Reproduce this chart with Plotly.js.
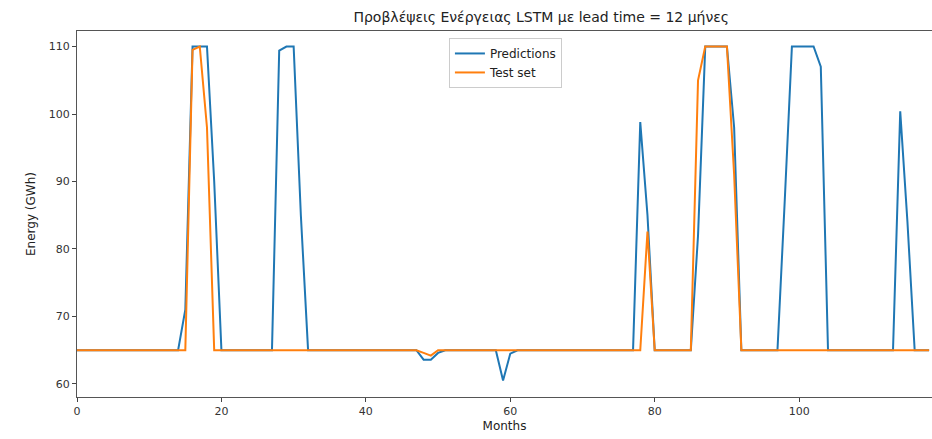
<!DOCTYPE html>
<html>
<head>
<meta charset="utf-8">
<script src="https://cdn.plot.ly/plotly-3.0.1.min.js"></script>
<style>html,body{margin:0;padding:0;background:#fff;}#chart{width:932px;height:439px;}</style>
</head>
<body>
<div id="chart"></div>
<script>
const chartTitle = "Προβλέψεις Ενέργειας LSTM με lead time = 12 μήνες";
const seriesNames = ["Predictions", "Test set"];
const predictions = [
  65,65,65,65,65,65,65,65,65,65,
  65,65,65,65,65,71,110,110,110,90,
  65,65,65,65,65,65,65,65,109.4,110,
  110,85,65,65,65,65,65,65,65,65,
  65,65,65,65,65,65,65,65,63.6,63.6,
  64.6,65,65,65,65,65,65,65,65,60.5,
  64.5,65,65,65,65,65,65,65,65,65,
  65,65,65,65,65,65,65,65,98.8,85,
  65,65,65,65,65,65,82,110,110,110,
  110,98,65,65,65,65,65,65,87,110,
  110,110,110,107,65,65,65,65,65,65,
  65,65,65,65,100.4,84,65,65,65
];
const testSet = [
  65,65,65,65,65,65,65,65,65,65,
  65,65,65,65,65,65,109.5,110,98,65,
  65,65,65,65,65,65,65,65,65,65,
  65,65,65,65,65,65,65,65,65,65,
  65,65,65,65,65,65,65,65,64.6,64.2,
  65,65,65,65,65,65,65,65,65,65,
  65,65,65,65,65,65,65,65,65,65,
  65,65,65,65,65,65,65,65,65,82.6,
  65,65,65,65,65,65,105,110,110,110,
  110,91,65,65,65,65,65,65,65,65,
  65,65,65,65,65,65,65,65,65,65,
  65,65,65,65,65,65,65,65,65
];
const months = predictions.map((_, i) => i);
const xTicks = [0, 20, 40, 60, 80, 100];
const yTicks = [60, 70, 80, 90, 100, 110];

const font = "DejaVu Sans, sans-serif";
const traces = [
  {x: months, y: predictions, name: seriesNames[0], type: "scatter", mode: "lines",
   line: {color: "#1f77b4", width: 2}},
  {x: months, y: testSet, name: seriesNames[1], type: "scatter", mode: "lines",
   line: {color: "#ff7f0e", width: 2}}
];
const axisCommon = {
  showgrid: false, zeroline: false, showline: true, mirror: true,
  linecolor: "#555", linewidth: 1, ticks: "outside", ticklen: 4,
  tickcolor: "#444", tickfont: {family: font, size: 11, color: "#333"}
};
const layout = {
  width: 932, height: 439,
  margin: {l: 77, r: 0, t: 31, b: 42},
  paper_bgcolor: "#fff", plot_bgcolor: "#fff",
  title: {text: chartTitle, font: {family: font, size: 14, color: "#222"},
          x: 0.543, xanchor: "center", xref: "paper", y: 0.962, yanchor: "middle"},
  xaxis: Object.assign({}, axisCommon, {
    range: [0, 118.4], tickvals: xTicks, ticktext: xTicks.map(String),
    title: {text: "Months", font: {family: font, size: 12, color: "#222"}, standoff: 4}
  }),
  yaxis: Object.assign({}, axisCommon, {
    range: [58.07, 112.3], tickvals: yTicks, ticktext: yTicks.map(String),
    title: {text: "Energy (GWh)", font: {family: font, size: 12, color: "#222"}, standoff: 10}
  }),
  showlegend: true,
  legend: {x: 0.435, y: 0.981, xanchor: "left", yanchor: "top",
           bgcolor: "#fff", bordercolor: "#ccc", borderwidth: 1,
           font: {family: font, size: 12, color: "#222"}, tracegroupgap: 0}
};
Plotly.newPlot("chart", traces, layout, {staticPlot: true, displayModeBar: false});
</script>
</body>
</html>
